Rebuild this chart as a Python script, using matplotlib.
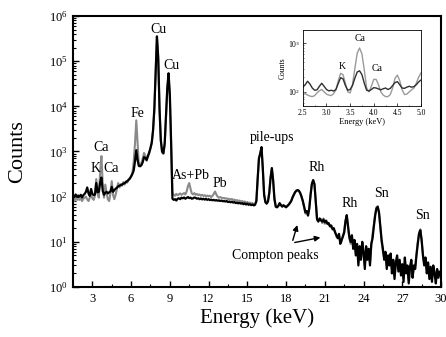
import numpy as np
import matplotlib
matplotlib.use("Agg")
import matplotlib.pyplot as plt
from matplotlib.ticker import LogLocator, NullFormatter, MultipleLocator

plt.rcParams['font.family'] = ['Liberation Serif', 'DejaVu Serif']
plt.rcParams['mathtext.fontset'] = 'stix'

# ---- main spectrum: channels every 0.1 keV from 1.5 to 30.0 keV ----
energy = np.round(np.arange(1.5, 30.0001, 0.1), 2)

counts_black = [
    105, 98, 112, 100, 106,
    100, 110, 96, 108, 115, 128, 160, 118, 104, 148,
    115, 108, 112, 200, 125, 128, 205, 265, 135, 110,
    122, 128, 118, 125, 130, 165, 128, 140, 150, 158,
    170, 175, 180, 185, 195, 200, 210, 220, 235, 250,
    280, 320, 380, 600, 1070, 650, 480, 470, 500, 580,
    750, 720, 650, 800, 950, 1200, 1600, 3000, 9000, 60000,
    355000, 120000, 9000, 1800, 1000, 920, 1500, 6000, 25000, 54000,
    18000, 1500, 90, 85, 88, 82, 90, 92, 88, 95,
    92, 96, 90, 94, 98, 93, 95, 90, 92, 96,
    94, 90, 92, 88, 91, 87, 90, 86, 89, 85,
    88, 84, 86, 83, 85, 82, 84, 81, 83, 80,
    82, 79, 80, 78, 80, 76, 78, 75, 77, 74,
    76, 72, 74, 71, 73, 70, 72, 68, 71, 67,
    70, 66, 68, 65, 67, 64, 66, 80, 250, 700,
    900, 1250, 420, 110, 75, 70, 78, 120, 260, 430,
    230, 90, 60, 58, 62, 72, 65, 60, 64, 62,
    58, 62, 66, 72, 80, 95, 110, 125, 135, 140,
    135, 120, 100, 80, 60, 45, 48, 38, 55, 110,
    190, 232, 190, 80, 32, 28, 33, 30, 28, 31,
    27, 29, 25, 26, 22, 23, 19, 20, 16, 14,
    12, 15, 9, 11, 13, 16, 28, 39, 22, 13,
    10, 14, 7, 11, 5, 9, 3, 8, 4, 10,
    6, 2.5, 8, 4, 7, 3, 9, 12, 22, 38,
    55, 59, 45, 22, 11, 7, 4, 6, 2.5, 5,
    3, 5.5, 2, 4, 1.5, 3.5, 5, 2.2, 4, 1.8,
    3.2, 1.3, 4.5, 2, 3, 1.2, 2.8, 4, 1.6, 3,
    2.5, 5, 9, 15, 18, 11, 5, 3, 4.5, 2,
    3.5, 1.5, 2.8, 1.3, 3, 2, 1.2, 2.5, 1.6, 2.2,
    1.8,
]

counts_gray = [
    90, 80, 95, 85, 88,
    85, 92, 80, 90, 95, 100, 87, 80, 95, 110,
    92, 85, 105, 245, 120, 95, 350, 790, 200, 95,
    185, 120, 87, 80, 120, 220, 110, 88, 110, 150,
    200, 160, 190, 175, 210, 185, 220, 205, 240, 260,
    280, 330, 600, 1500, 4900, 1500, 500, 480, 560, 700,
    930, 800, 620, 750, 900, 1150, 1500, 2800, 8500, 55000,
    340000, 110000, 8500, 1700, 950, 880, 1400, 5500, 23000, 50000,
    16000, 1400, 120, 110, 105, 115, 108, 112, 118, 110,
    115, 120, 112, 130, 170, 200, 150, 118, 112, 120,
    110, 115, 108, 112, 105, 110, 104, 108, 100, 106,
    102, 105, 98, 104, 115, 130, 112, 100, 95, 98,
    95, 92, 94, 90, 92, 88, 90, 86, 89, 84,
    86, 82, 84, 80, 82, 78, 80, 76, 78, 74,
    76, 72, 74, 70, 72, 68, 70, 78, 230, 720,
    920, 1200, 400, 115, 78, 72, 82, 125, 270, 420,
    220, 88, 62, 60, 64, 70, 66, 62, 66, 60,
    60, 64, 68, 74, 82, 98, 112, 128, 138, 138,
    132, 118, 98, 78, 58, 42, 46, 40, 58, 115,
    195, 235, 185, 78, 30, 30, 31, 32, 26, 33,
    25, 30, 27, 24, 23, 21, 20, 18, 17, 13,
    13, 14, 10, 10, 14, 17, 30, 37, 20, 12,
    9, 13, 8, 10, 6, 8, 3.5, 7, 5, 9,
    5, 3, 7, 4.5, 6, 3.5, 8, 15, 24, 42,
    58, 62, 42, 20, 10, 6, 4.5, 5, 3, 4.5,
    3.5, 5, 2.5, 3.5, 1.8, 3, 4.5, 2.5, 3.5, 2,
    3, 1.6, 4, 2.2, 2.7, 1.4, 2.5, 3.6, 1.8, 2.7,
    2.8, 5.5, 10, 16, 19, 10, 5.5, 3.2, 4, 2.3,
    3.2, 1.7, 2.5, 1.5, 2.7, 2.2, 1.4, 2.3, 1.8, 2,
    2,
]

# ---- inset: 2.5 - 5.0 keV every 0.05 keV ----
inset_energy = np.round(np.arange(2.5, 5.0001, 0.05), 2)
inset_black = [
    125, 140, 165, 145, 120, 108, 110, 130, 150, 130,
    112, 105, 108, 104, 112, 150, 195, 185, 135, 108,
    112, 135, 190, 255, 270, 225, 150, 108, 104, 112,
    122, 120, 115, 110, 116, 120, 112, 118, 135, 155,
    162, 140, 120, 118, 125, 130, 125, 128, 140, 160,
    175,
]
inset_gray = [
    100, 92, 86, 82, 80, 84, 95, 105, 112, 100,
    90, 86, 84, 92, 110, 170, 240, 225, 150, 100,
    95, 140, 300, 620, 790, 600, 280, 120, 100, 130,
    180, 180, 140, 100, 86, 80, 80, 88, 120, 190,
    220, 170, 110, 88, 90, 100, 110, 120, 150, 200,
    245,
]

# peak labels: (text, energy, counts)
main_labels = [
    ("Ca", 3.70, 1250), ("K", 3.24, 430), ("Ca", 4.45, 430),
    ("Fe", 6.53, 7100), ("Cu", 8.08, 510000), ("Cu", 9.09, 81000),
    ("As+Pb", 10.64, 300), ("Pb", 12.9, 200), ("pile-ups", 16.95, 2090),
    ("Rh", 20.4, 450), ("Rh", 22.96, 72), ("Sn", 25.36, 120), ("Sn", 28.6, 39),
]
inset_labels = [("K", 3.33, 330), ("Ca", 3.70, 1250), ("Ca", 4.06, 300)]

x_ticks = [3, 6, 9, 12, 15, 18, 21, 24, 27, 30]
inset_x_ticks = [2.5, 3.0, 3.5, 4.0, 4.5, 5.0]

fig = plt.figure(figsize=(4.46, 3.37), dpi=100)
ax = fig.add_axes([0.1637, 0.1484, 0.8251, 0.8041])

gray_c = '#8a8a8a'
ax.plot(energy, counts_gray, color=gray_c, lw=1.5)
ax.plot(energy, counts_black, color='black', lw=1.6)
ax.set_yscale('log')
ax.set_xlim(1.5, 30)
ax.set_ylim(1, 1e6)
ax.set_xticks(x_ticks)
ax.xaxis.set_minor_locator(MultipleLocator(1.5))
ax.yaxis.set_major_locator(LogLocator(base=10, numticks=10))
ax.yaxis.set_minor_locator(LogLocator(base=10, subs=np.arange(2, 10), numticks=20))
ax.yaxis.set_minor_formatter(NullFormatter())
ax.tick_params(which='both', direction='in', top=False, right=False, labelsize=9, pad=4)
ax.tick_params(which='major', length=4, width=1)
ax.tick_params(which='minor', length=2, width=0.8)
for s in ax.spines.values():
    s.set_linewidth(1.5)

ax.set_xlabel('Energy (keV)', fontsize=15)
ax.set_ylabel('Counts', fontsize=16)
ax.xaxis.set_label_coords(0.5, -0.08)
ax.yaxis.set_label_coords(-0.125, 0.5)

for t, e, c in main_labels:
    ax.text(e, c, t, fontsize=10, ha='center', va='center')

ax.text(17.15, 5.1, 'Compton peaks', fontsize=10, ha='center', va='center')
ax.annotate('', xy=(18.93, 27), xytext=(18.46, 9.4),
            arrowprops=dict(arrowstyle='-|>', color='black', lw=1, mutation_scale=8))
ax.annotate('', xy=(20.87, 12.8), xytext=(18.46, 9.4),
            arrowprops=dict(arrowstyle='-|>', color='black', lw=1, mutation_scale=8))

# inset
ins = fig.add_axes([0.679, 0.685, 0.265, 0.226])
ins.plot(inset_energy, inset_gray, color='#9a9a9a', lw=1.0)
ins.plot(inset_energy, inset_black, color='#303030', lw=1.0)
ins.set_yscale('log')
ins.set_xlim(2.5, 5.0)
ins.set_ylim(51, 1850)
ins.set_xticks(inset_x_ticks)
ins.xaxis.set_minor_locator(MultipleLocator(0.25))
ins.yaxis.set_major_locator(LogLocator(base=10, numticks=5))
ins.yaxis.set_minor_locator(LogLocator(base=10, subs=np.arange(2, 10), numticks=10))
ins.yaxis.set_minor_formatter(NullFormatter())
ins.tick_params(which='both', direction='in', labelsize=5.5, pad=2)
ins.tick_params(which='major', length=2, width=0.5)
ins.tick_params(which='minor', length=1, width=0.4)
for s in ins.spines.values():
    s.set_linewidth(0.6)
ins.set_xlabel('Energy (keV)', fontsize=6, labelpad=1)
ins.set_ylabel('Counts', fontsize=5.5, labelpad=1)
for t, e, c in inset_labels:
    ins.text(e, c, t, fontsize=7, ha='center', va='center')

fig.savefig('out.png', dpi=100)
